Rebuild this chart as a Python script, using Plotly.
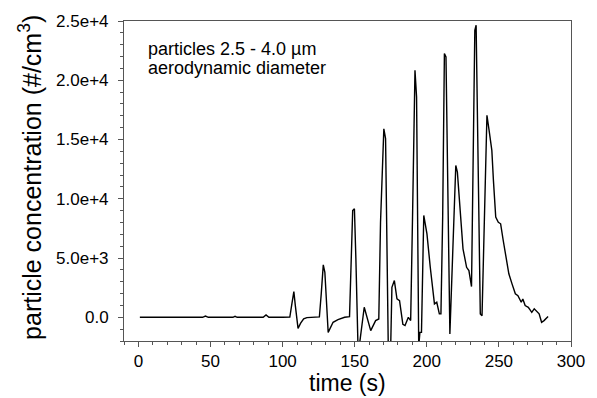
import plotly.graph_objects as go

time_s = [1, 10, 20, 30, 40, 44.5, 46.5, 48.5, 60, 65.5, 67, 68.5, 80, 86.5, 88.5, 90.5,
          100, 105, 106.5, 107.8, 108.8, 110.7, 112.5, 114.6, 116.8, 120, 125.5, 126.8,
          128.2, 129.3, 131.6, 135, 138.4, 143, 146.4, 148.6, 149.8, 150.8, 152.3, 153.3,
          156.6, 161.1, 164.5, 166.7, 167.9, 170.2, 171.4, 173.3, 174.9, 175.8, 177.5,
          179.3, 181.1, 183.4, 184.9, 187.2, 188.8, 190.1, 191.8, 192.9, 194.4, 195.2,
          196.3, 197.9, 200.1, 202.4, 205.3, 206.9, 208.7, 209.8, 211, 212.2, 213.3, 216,
          217.8, 220.1, 221.2, 223.5, 225.1, 227.6, 229.2, 231, 231.9, 233.3, 234.2, 235.5,
          237.1, 238.3, 240.1, 241.7, 243.2, 245.1, 246.2, 247.8, 249.6, 251.2, 253, 254.6,
          256.9, 259.1, 261.4, 263.2, 264.3, 265.5, 266.6, 268.2, 270.4, 272.8, 274.5,
          276.4, 277.9, 279.6, 281.3, 284.1]
concentration = [0, 0, 0, 0, 0, 0, 100, 0, 0, 0, 80, 0, 0, 0, 200, 0,
                 0, 20, 1200, 2170, 1000, -930, -500, -135, -30, 0, 30, 2000,
                 4420, 3800, -1270, -420, -195, 0, 60, 9010, 9150, 5000, -2600, -2300,
                 845, -1120, -280, -140, 8000, 15900, 15070, -2800, -2800, 2530, 3100,
                 1550, 1410, -600, -700, 0, -280, 8450, 20840, 18580, -2500, -1270,
                 -1270, 8590, 7040, 4220, 1130, 1270, 290, 290, 8450, 22250, 21960, -1400,
                 4220, 12810, 12250, 8730, 5780, 4220, 3940, 2590, 12670, 24210, 24640, 12110,
                 290, 140, 9860, 17040, 15770, 14080, 11550, 8450, 8020, 7890, 6480, 5210,
                 3670, 2820, 1980, 1830, 1550, 1270, 1550, 990, 845, 420, 710,
                 420, 290, -420, -280, 60]

y_tick_vals = [0, 5000, 10000, 15000, 20000, 25000]
y_tick_text = ["0.0", "5.0e+3", "1.0e+4", "1.5e+4", "2.0e+4", "2.5e+4"]
x_tick_vals = [0, 50, 100, 150, 200, 250, 300]

FONT = "Liberation Sans, Arial, sans-serif"
AX = "#555555"

fig = go.Figure()
fig.add_trace(go.Scatter(x=time_s, y=concentration, mode="lines",
                         line=dict(color="black", width=1.4), showlegend=False))

fig.update_layout(
    width=597, height=398,
    margin=dict(l=124, r=16, t=21, b=57),
    paper_bgcolor="white", plot_bgcolor="white",
    font=dict(family=FONT, color="black"),
    xaxis=dict(range=[-10, 300], tickvals=x_tick_vals, ticks="outside", ticklen=5,
               tickwidth=1, tickcolor=AX, showline=True, linecolor=AX, linewidth=1,
               mirror=True, showgrid=False, zeroline=False, ticklabelstandoff=0,
               tickfont=dict(size=17, family=FONT),
               minor=dict(dtick=10, tick0=0, ticks="outside", ticklen=3, tickcolor=AX)),
    yaxis=dict(range=[-2000, 25000], tickvals=y_tick_vals, ticktext=y_tick_text,
               ticks="outside", ticklen=5, tickwidth=1, tickcolor=AX, showline=True,
               linecolor=AX, linewidth=1, mirror=True, showgrid=False, zeroline=False,
               ticklabelstandoff=6,
               tickfont=dict(size=17, family=FONT),
               minor=dict(dtick=1000, tick0=0, ticks="outside", ticklen=3, tickcolor=AX)),
)

fig.add_annotation(text="time (s)", xref="paper", yref="paper", x=0.5, y=-0.178,
                   xanchor="center", yanchor="bottom", showarrow=False,
                   font=dict(size=23, family=FONT))
fig.add_annotation(text="particle concentration (#/cm<sup>3</sup>)", xref="paper",
                   yref="paper", x=-0.21, y=0.51, xanchor="center", yanchor="middle",
                   textangle=-90, showarrow=False, font=dict(size=25, family=FONT))
fig.add_annotation(text="particles 2.5 - 4.0 \u00b5m", xref="paper", yref="paper",
                   x=0.05, y=0.9116, xanchor="left", yanchor="middle", showarrow=False,
                   font=dict(size=18, family=FONT))
fig.add_annotation(text="aerodynamic diameter", xref="paper", yref="paper",
                   x=0.05, y=0.854, xanchor="left", yanchor="middle", showarrow=False,
                   font=dict(size=18, family=FONT))

fig.write_html("out.html")
